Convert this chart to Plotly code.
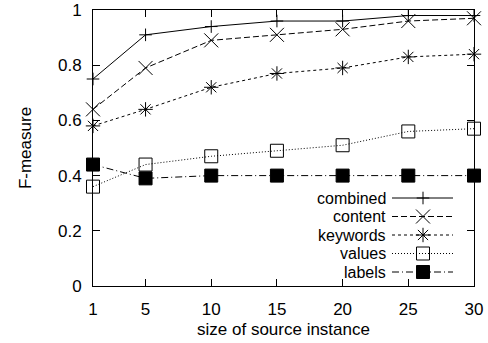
import plotly.graph_objects as go

sizes = [1, 5, 10, 15, 20, 25, 30]
combined = [0.75, 0.91, 0.94, 0.96, 0.96, 0.98, 0.98]
content = [0.64, 0.79, 0.89, 0.91, 0.93, 0.96, 0.97]
keywords = [0.58, 0.64, 0.72, 0.77, 0.79, 0.83, 0.84]
values = [0.36, 0.44, 0.47, 0.49, 0.51, 0.56, 0.57]
labels = [0.44, 0.39, 0.40, 0.40, 0.40, 0.40, 0.40]

series_names = ["combined", "content", "keywords", "values", "labels"]
series_data = [combined, content, keywords, values, labels]
x_ticks = [1, 5, 10, 15, 20, 25, 30]
y_ticks = [0, 0.2, 0.4, 0.6, 0.8, 1]
y_tick_text = ["0", "0.2", "0.4", "0.6", "0.8", "1"]

styles = [
    dict(dash="solid", symbol="cross-thin-open", size=9, lw=1),
    dict(dash="6px,3px", symbol="x-thin-open", size=14, lw=1),
    dict(dash="3px,3px", symbol="asterisk-open", size=12, lw=1),
    dict(dash="1px,2px", symbol="square-open", size=13, lw=1),
    dict(dash="7px,3px,1px,3px", symbol="square", size=13, lw=1),
]

W, H = 488, 343
L, R, T, B = 93, 14, 10, 57
pw = W - L - R
ph = H - T - B
FS = 17
LEG_FS = 16

fig = go.Figure()
for name, ys, st in zip(series_names, series_data, styles):
    fig.add_trace(go.Scatter(
        x=sizes, y=ys, mode="lines+markers", name=name,
        line=dict(color="black", width=1, dash=st["dash"]),
        marker=dict(symbol=st["symbol"], size=st["size"], color="black",
                    line=dict(color="black", width=st["lw"])),
        cliponaxis=False, showlegend=False,
    ))

# custom gnuplot-style legend (text then sample)
row_px = [198, 216.5, 235, 253.5, 272]
text_right_px = 388
line_x0_px, line_x1_px, mark_px = 392, 453, 423
annotations = []
for name, st, py in zip(series_names, styles, row_px):
    yv = (H - B - py) / ph
    xa = (line_x0_px - L) / pw
    xb = (line_x1_px - L) / pw
    xm = (mark_px - L) / pw
    fig.add_trace(go.Scatter(
        x=[xa, xb], y=[yv, yv], mode="lines",
        xaxis="x2", yaxis="y2", showlegend=False, hoverinfo="skip",
        line=dict(color="black", width=1, dash=st["dash"]),
        cliponaxis=False,
    ))
    fig.add_trace(go.Scatter(
        x=[xm], y=[yv], mode="markers",
        xaxis="x2", yaxis="y2", showlegend=False, hoverinfo="skip",
        marker=dict(symbol=st["symbol"], size=st["size"], color="black",
                    line=dict(color="black", width=st["lw"])),
        cliponaxis=False,
    ))
    annotations.append(dict(
        x=(text_right_px - L) / pw, y=yv, xref="paper", yref="paper",
        text=name, showarrow=False, xanchor="right", yanchor="middle",
        font=dict(family="Liberation Sans, Arial, sans-serif", size=LEG_FS, color="black"),
    ))

axis_font = dict(family="Liberation Sans, Arial, sans-serif", size=FS, color="black")
fig.update_layout(
    width=W, height=H,
    margin=dict(l=L, r=R, t=T, b=B, autoexpand=False),
    paper_bgcolor="white", plot_bgcolor="white",
    showlegend=False,
    annotations=annotations,
    xaxis=dict(
        range=[1, 30], tickvals=x_ticks, ticktext=[str(v) for v in x_ticks],
        ticks="inside", ticklen=7, tickcolor="black", tickwidth=1,
        showline=True, linecolor="black", linewidth=1, mirror="ticks",
        showgrid=False, zeroline=False, tickfont=axis_font,
        title=dict(text="size of source instance", font=axis_font, standoff=4),
        ticklabelstandoff=8,
    ),
    yaxis=dict(
        range=[0, 1], tickvals=y_ticks, ticktext=y_tick_text,
        ticks="inside", ticklen=7, tickcolor="black", tickwidth=1,
        showline=True, linecolor="black", linewidth=1, mirror="ticks",
        showgrid=False, zeroline=False, tickfont=axis_font,
        title=dict(text="F-measure", font=axis_font, standoff=22),
        ticklabelstandoff=7,
    ),
    xaxis2=dict(range=[0, 1], overlaying="x", visible=False, fixedrange=True),
    yaxis2=dict(range=[0, 1], overlaying="y", visible=False, fixedrange=True),
    font=axis_font,
)

fig.write_html("out.html", config={"displayModeBar": False},
               post_script="document.body.style.margin='0';document.body.style.padding='0';")
